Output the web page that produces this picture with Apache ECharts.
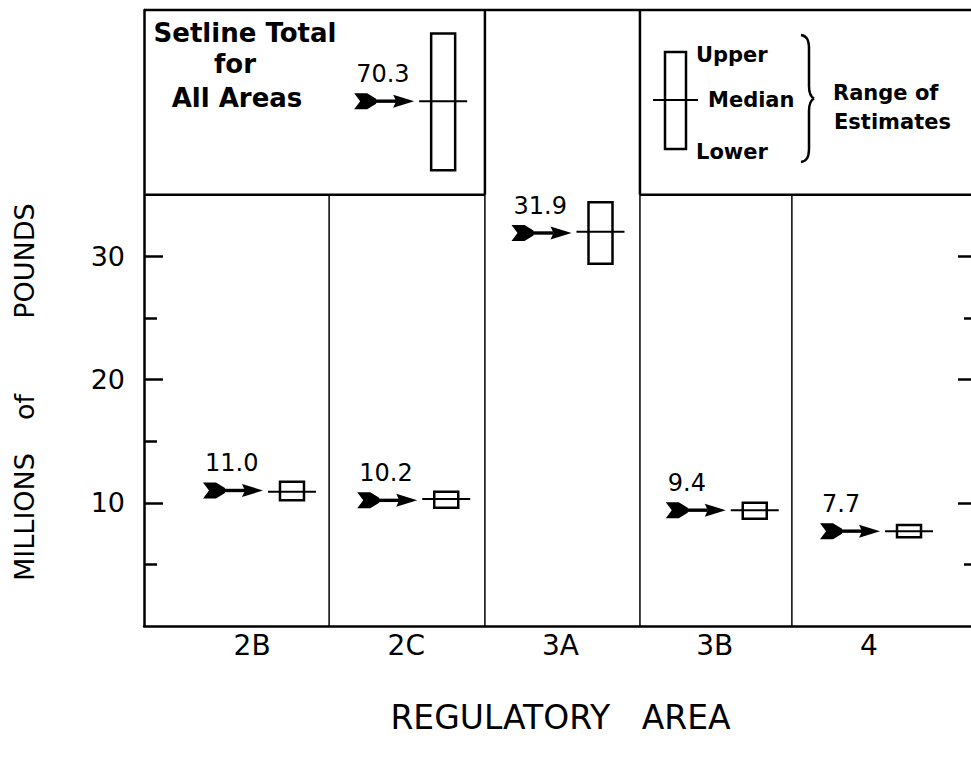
<!DOCTYPE html>
<html><head><meta charset="utf-8">
<script src="https://cdn.jsdelivr.net/npm/echarts@6/dist/echarts.min.js"></script>
<style>html,body{margin:0;padding:0;background:#fff;overflow:hidden}#c{width:977px;height:764px}</style>
</head><body><div id="c"></div>
<script>
// ---- data ----
const areas = ['2B', '2C', '3A', '3B', '4'];
const setline = [11.0, 10.2, 31.9, 9.4, 7.7];
const lowerEst = [10.2, 9.6, 29.4, 8.7, 7.2];
const medianEst = [10.9, 10.3, 32.0, 9.4, 7.7];
const upperEst = [11.7, 10.9, 34.4, 10.0, 8.2];
const totalSetline = 70.3;
const totalLower = 64.7;
const totalMedian = 70.3;
const totalUpper = 75.8;
const majorTicks = [10, 20, 30];
const minorTicksLeft = [5, 15, 25];
const minorTicksRight = [5, 25];

// ---- layout ----
const F = 'DejaVu Sans';
const BOX_DX = 40, BOX_W = 24, MED_W = 48, ARROW_DX = -89;
const TAIL = [[0,-8],[13,-8],[22,-2.5],[22,2.5],[13,8],[0,8],[6,0]];
const HEAD = [[39,-6.5],[60,0],[39,6.5],[42,0]];
const totalX = 0.98;
const heavySegs = [[-0.7,50,4.7,50],[-0.7,35,1.51,35],[2.515,35,4.7,35],[1.51,35,1.51,50],[2.515,35,2.515,50]];
const lightSegs = [[0.5,0,0.5,35],[1.51,0,1.51,35],[2.515,0,2.515,35],[3.5,0,3.5,35]];

function segRender(w) {
  return function (params, api) {
    const p1 = api.coord([api.value(0), api.value(1)]);
    const p2 = api.coord([api.value(2), api.value(3)]);
    return {type: 'line', shape: {x1: p1[0], y1: p1[1], x2: p2[0], y2: p2[1]},
      style: {stroke: '#000', lineWidth: w}};
  };
}

function rangeRender(params, api) {
  const x = api.value(0);
  const base = api.coord([x, api.value(2)]);
  const bx = base[0] + BOX_DX;
  const my = base[1];
  const yTop = api.coord([x, api.value(3)])[1];
  const yBot = api.coord([x, api.value(1)])[1];
  const ay = api.coord([x, api.value(4)])[1];
  const L = bx + ARROW_DX;
  return {type: 'group', children: [
    {type: 'rect', shape: {x: bx - BOX_W / 2, y: yTop, width: BOX_W, height: yBot - yTop},
      style: {fill: '#fff', stroke: '#000', lineWidth: 2.5}},
    {type: 'line', shape: {x1: bx - MED_W / 2, y1: my, x2: bx + MED_W / 2, y2: my},
      style: {stroke: '#000', lineWidth: 2}},
    {type: 'polygon', shape: {points: TAIL.map(p => [L + p[0], ay + p[1]])}, style: {fill: '#000'}},
    {type: 'rect', shape: {x: L + 20, y: ay - 1.7, width: 22, height: 3.4}, style: {fill: '#000'}},
    {type: 'polygon', shape: {points: HEAD.map(p => [L + p[0], ay + p[1]])}, style: {fill: '#000'}},
    {type: 'text', style: {text: api.value(4).toFixed(1), x: L + 2, y: ay - 27,
      align: 'left', verticalAlign: 'middle',
      fontSize: 24, fontFamily: F, fill: '#000'}}
  ]};
}

function txt(text, x, y, size, weight, align, rot) {
  return {type: 'text', x: x, y: y, rotation: rot || 0, silent: true,
    style: {text: text, fontSize: size, fontFamily: F, fontWeight: weight, fill: '#000',
      align: align, verticalAlign: 'middle'}};
}
function bez(x1, y1, c1x, c1y, c2x, c2y, x2, y2) {
  return {type: 'bezierCurve', silent: true,
    shape: {x1: x1, y1: y1, cpx1: c1x, cpy1: c1y, cpx2: c2x, cpy2: c2y, x2: x2, y2: y2},
    style: {fill: null, stroke: '#000', lineWidth: 2.5}};
}
function seg(x1, y1, x2, y2, w) {
  return {type: 'line', silent: true, shape: {x1: x1, y1: y1, x2: x2, y2: y2},
    style: {stroke: '#000', lineWidth: w}};
}

const axisBlack = {color: '#000', width: 2.5};
const chart = echarts.init(document.getElementById('c'), null, {renderer: 'svg', width: 977, height: 764});
chart.setOption({
  animation: false,
  backgroundColor: '#fff',
  grid: [
    {left: 144, right: 0, top: 10, bottom: 138, outerBoundsMode: 'none'},
    {left: 175, right: 31, top: 10, bottom: 138, outerBoundsMode: 'none'}
  ],
  xAxis: [
    {gridIndex: 0, type: 'value', min: -0.7, max: 4.7,
      axisLine: {show: true, onZero: false, lineStyle: axisBlack},
      axisTick: {show: false}, axisLabel: {show: false}, splitLine: {show: false}},
    {gridIndex: 1, type: 'category', data: areas,
      axisLine: {show: false, onZero: false}, axisTick: {show: false}, splitLine: {show: false},
      axisLabel: {fontFamily: F, fontSize: 28, color: '#000', margin: 5},
      name: 'REGULATORY   AREA', nameLocation: 'middle', nameGap: 75,
      nameTextStyle: {fontFamily: F, fontSize: 33, color: '#000'}}
  ],
  yAxis: [
    {gridIndex: 0, type: 'value', min: 0, max: 50, position: 'left',
      axisLine: {show: true, onZero: false, lineStyle: axisBlack},
      axisTick: {show: true, inside: true, length: 19, customValues: majorTicks, lineStyle: axisBlack},
      axisLabel: {show: true, customValues: majorTicks, fontFamily: F, fontSize: 27, color: '#000', margin: 19},
      splitLine: {show: false}},
    {gridIndex: 0, type: 'value', min: 0, max: 50, position: 'left',
      axisLine: {show: false, onZero: false},
      axisTick: {show: true, inside: true, length: 13, customValues: minorTicksLeft, lineStyle: axisBlack},
      axisLabel: {show: false}, splitLine: {show: false}},
    {gridIndex: 0, type: 'value', min: 0, max: 50, position: 'right',
      axisLine: {show: true, onZero: false, lineStyle: axisBlack},
      axisTick: {show: true, inside: true, length: 19, customValues: majorTicks, lineStyle: axisBlack},
      axisLabel: {show: false}, splitLine: {show: false}},
    {gridIndex: 0, type: 'value', min: 0, max: 50, position: 'right',
      axisLine: {show: false, onZero: false},
      axisTick: {show: true, inside: true, length: 13, customValues: minorTicksRight, lineStyle: axisBlack},
      axisLabel: {show: false}, splitLine: {show: false}},
    {gridIndex: 0, type: 'value', min: 27.7, max: 77.7, show: false, axisLine: {onZero: false}},
    {gridIndex: 1, type: 'value', show: false, axisLine: {onZero: false}}
  ],
  series: [
    {type: 'custom', name: 'frameHeavy', xAxisIndex: 0, yAxisIndex: 0, silent: true,
      renderItem: segRender(2.5), data: heavySegs},
    {type: 'custom', name: 'frameLight', xAxisIndex: 0, yAxisIndex: 0, silent: true,
      renderItem: segRender(1.5), data: lightSegs},
    {type: 'custom', name: 'Areas', xAxisIndex: 0, yAxisIndex: 0,
      renderItem: rangeRender,
      data: areas.map((a, i) => [i, lowerEst[i], medianEst[i], upperEst[i], setline[i]])},
    {type: 'custom', name: 'Total', xAxisIndex: 0, yAxisIndex: 4,
      renderItem: rangeRender,
      data: [[totalX, totalLower, totalMedian, totalUpper, totalSetline]]}
  ],
  graphic: [
    txt('Setline Total', 245, 33, 26, 'bold', 'center'),
    txt('for', 235, 64, 26, 'bold', 'center'),
    txt('All Areas', 237, 98, 26, 'bold', 'center'),
    {type: 'rect', silent: true, shape: {x: 665, y: 52, width: 21, height: 97}, style: {fill: null, stroke: '#000', lineWidth: 2.5}},
    seg(653, 100, 698, 100, 2),
    txt('Upper', 696, 55, 21, 'bold', 'left'),
    txt('Median', 708, 100, 21, 'bold', 'left'),
    txt('Lower', 696, 152, 21, 'bold', 'left'),
    txt('Range of', 833, 93, 21, 'bold', 'left'),
    txt('Estimates', 834, 122, 21, 'bold', 'left'),
    bez(801, 35, 807, 36, 809, 40, 809, 49),
    seg(809, 49, 809, 86, 2.5),
    bez(809, 86, 809, 93, 811, 97, 814, 98.5),
    bez(814, 98.5, 811, 100, 809, 104, 809, 111),
    seg(809, 111, 809, 148, 2.5),
    bez(809, 148, 809, 157, 807, 161, 801, 162),
    txt('MILLIONS', 24, 517, 27, 'normal', 'center', Math.PI / 2),
    txt('of', 24, 407, 27, 'normal', 'center', Math.PI / 2),
    txt('POUNDS', 24, 261, 27, 'normal', 'center', Math.PI / 2)
  ]
});
</script></body></html>
